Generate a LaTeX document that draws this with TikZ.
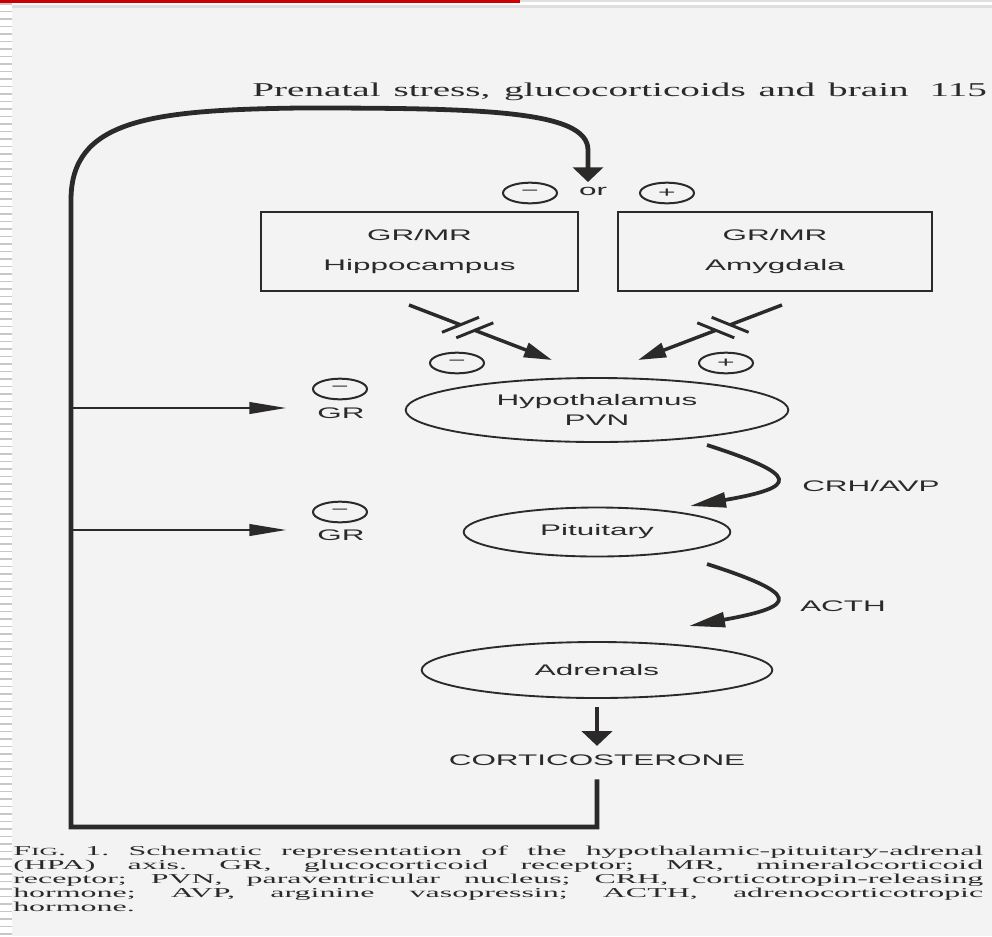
\documentclass[tikz,border=0pt]{standalone}
\usepackage{fontspec}
\usetikzlibrary{shapes.geometric,arrows.meta,calc}
\setmainfont{Liberation Serif}
\newfontfamily\labfont[FakeStretch=2.05]{Liberation Sans}
\newfontfamily\headfont[FakeStretch=2.0]{Liberation Serif}
\newfontfamily\capfont[FakeStretch=2.35]{Liberation Serif}
\definecolor{ink}{RGB}{44,41,41}
\definecolor{pagebg}{RGB}{243,243,243}
\definecolor{barred}{RGB}{204,0,0}
\newcommand\capline[1]{{\frenchspacing\spaceskip=0pt\xspaceskip=0pt\makebox[727.5pt][s]{#1}}}
\tikzset{
  lab/.style={font=\labfont\fontsize{11.5}{13.8}\selectfont, text=ink},
  region/.style={lab, rectangle, draw=ink, line width=1.8pt, minimum height=59.25pt, align=center},
  organ/.style={lab, ellipse, draw=ink, line width=1.4pt, inner sep=0pt, align=center},
  sign/.style={ellipse, draw=ink, line width=1.5pt, minimum width=40.5pt, minimum height=15.5pt,
    inner sep=0pt, text=ink, font=\labfont\fontsize{11}{11}\selectfont},
  fb/.style={draw=ink, line width=3.6pt},
  grline/.style={draw=ink, line width=2.2pt},
  inh/.style={draw=ink, line width=2.6pt},
  bar/.style={draw=ink, line width=2.2pt},
  hormone/.style={draw=ink, line width=2.8pt, -{Triangle[length=27pt,width=11pt]}},
  tiph/.style={-{Triangle[length=28pt,width=8.5pt]}},
  tipv/.style={-{Triangle[length=11pt,width=22.5pt]}},
  tipd/.style={-{Triangle[length=21pt,width=11pt]}}
}

\begin{document}
\begin{tikzpicture}[x=0.75pt,y=-0.75pt]

      \useasboundingbox (0,0) rectangle (992,936);
      \fill[white] (0,0) rectangle (992,936);
      \fill[pagebg] (12,7) rectangle (992,936);
      \fill[black!13] (12,5) rectangle (992,8);
      \foreach \y in {4,11.5,...,936}
        \draw[black!22, line width=1.1pt] (0,\y) -- (12,\y);
      \fill[barred] (0,0) rectangle (520,2.6);
      \fill[black!12] (520,0) rectangle (992,1.6);

      \node[anchor=base west, inner sep=0pt, text=ink,
        font=\headfont\fontsize{14.7}{17}\selectfont] (title) at (252,96)
        {\makebox[551pt][s]{Prenatal stress, glucocorticoids and brain\hspace{6pt} 115}};

      \begin{scope}[every node/.style={lab}]
        \node[region, minimum width=237.75pt] (hip) at (419.5,251.5) {GR/MR\\[9.4pt]Hippocampus};
        \node[region, minimum width=235.5pt]  (amy) at (775,251.5)   {GR/MR\\[9.4pt]Amygdala};
        \node[organ, minimum width=287pt, minimum height=48pt]    (hyp) at (597,410) {Hypothalamus\\[1.2pt]PVN};
        \node[organ, minimum width=200pt, minimum height=36.75pt] (pit) at (597,532) {Pituitary};
        \node[organ, minimum width=263pt, minimum height=42pt]    (adr) at (597,670) {Adrenals};
        \node (cort) at (597,760) {CORTICOSTERONE};
        \node (ortext) at (593,191) {or};
        \node (gra) at (341,413) {GR};
        \node (grb) at (341,535) {GR};
        \node[anchor=west, inner sep=0pt] (crh)  at (802,486) {CRH/AVP};
        \node[anchor=west, inner sep=0pt] (acth) at (800,606) {ACTH};
      \end{scope}

      \begin{scope}[every node/.style={sign}]
        \node (mor)  at (530,193) {\char"2212};
        \node (por)  at (667,193) {+};
        \node (mhy)  at (457,363) {\char"2212};
        \node (phy)  at (726,363) {+};
        \node (gras) at (340,389) {\char"2212};
        \node (grbs) at (340,512) {\char"2212};
      \end{scope}

      \coordinate (fbend)  at (588,182);
      \coordinate (tapa)   at (71,408);
      \coordinate (tapb)   at (71,530);
      \coordinate (hipout) at (409,305);
      \coordinate (hypinl) at (552,360);
      \coordinate (amyout) at (782,305);
      \coordinate (hypinr) at (638,360);
      \coordinate (crhs)   at (707,445);
      \coordinate (crhe)   at (690,506);
      \coordinate (acths)  at (707,564);
      \coordinate (acthe)  at (689,626);

      \draw[fb, tipv, shorten <=7pt] (cort.south) |- (71,827) -- (71,200)
        .. controls (71,120) and (150,110) .. (300,108)
        .. controls (480,108) and (588,110) .. (588,150) -- (fbend);

      \draw[grline, tiph, shorten >=19.5pt] (tapa) -- (tapa -| gra.west);
      \draw[grline, tiph, shorten >=19.5pt] (tapb) -- (tapb -| grb.west);

      \coordinate (ba1) at ($(hipout)!.36!(hypinl)$);
      \coordinate (ba2) at ($(hipout)!.46!(hypinl)$);
      \coordinate (bb1) at ($(amyout)!.36!(hypinr)$);
      \coordinate (bb2) at ($(amyout)!.46!(hypinr)$);
      \draw[inh] (hipout) -- (ba1);
      \draw[inh, tipd] (ba2) -- (hypinl);
      \draw[inh] (amyout) -- (bb1);
      \draw[inh, tipd] (bb2) -- (hypinr);
      \draw[bar] ($(ba1)+(-18.5,7.5)$) -- ($(ba1)+(18.5,-7.5)$);
      \draw[bar] ($(ba2)+(-18.5,7.5)$) -- ($(ba2)+(18.5,-7.5)$);
      \draw[bar] ($(bb1)+(18.5,7.5)$) -- ($(bb1)+(-18.5,-7.5)$);
      \draw[bar] ($(bb2)+(18.5,7.5)$) -- ($(bb2)+(-18.5,-7.5)$);

      \draw[hormone] (crhs) .. controls (800,475) and (800,487) .. (crhe);
      \draw[hormone] (acths) .. controls (800,594) and (800,606) .. (acthe);

      \draw[fb, tipv, shorten <=6pt, shorten >=3pt] (adr.south) -- (cort.north);

      \node[anchor=north west, inner sep=0pt, text width=727.5pt, align=left, text=ink,
        font=\capfont\fontsize{10.2}{10.5}\selectfont] (cap) at (13,845.5)
        {\capline{F{\fontsize{8.2}{10.5}\selectfont IG}. 1. Schematic representation of the hypothalamic-pituitary-adrenal}\\
         \capline{(HPA) axis. GR, glucocorticoid receptor; MR, mineralocorticoid}\\
         \capline{receptor; PVN, paraventricular nucleus; CRH, corticotropin-releasing}\\
         \capline{hormone; AVP, arginine vasopressin; ACTH, adrenocorticotropic}\\
         hormone.};

    \end{tikzpicture}
\end{document}
